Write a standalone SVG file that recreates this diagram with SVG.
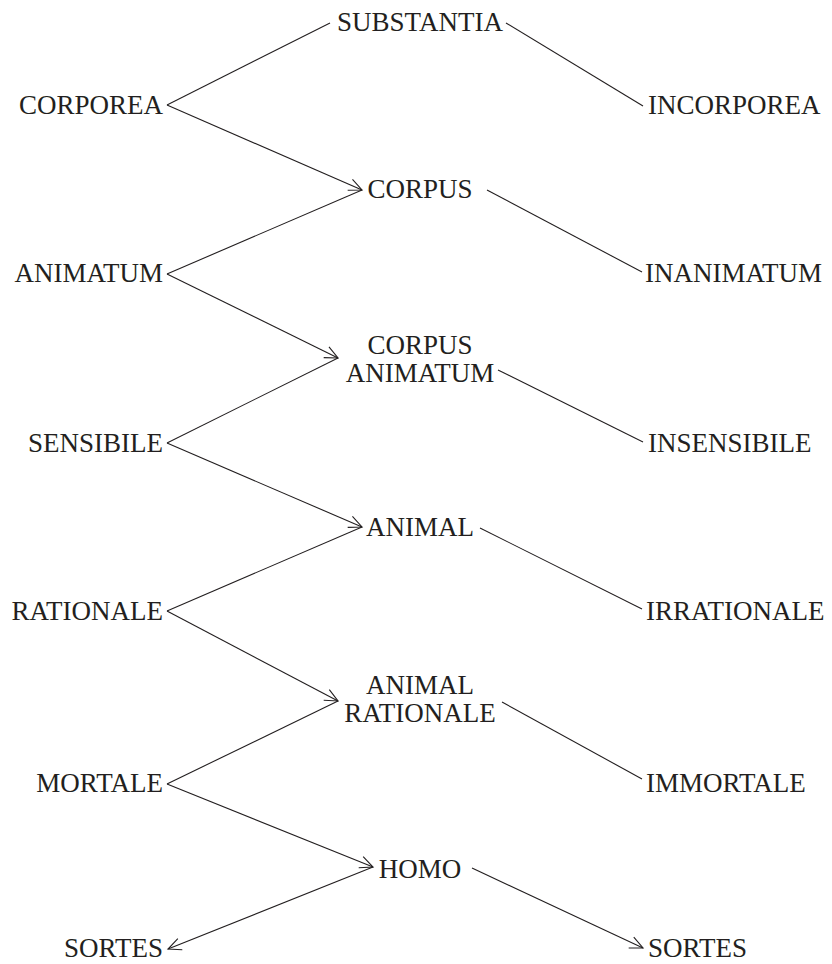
<svg xmlns="http://www.w3.org/2000/svg" width="832" height="964" viewBox="0 0 832 964">
<style>
text{font-family:"Liberation Serif","Times New Roman",serif;font-size:27px;fill:#231f20}
.l{text-anchor:end}.r{text-anchor:start}.c{text-anchor:middle}
line{stroke:#231f20;stroke-width:1.1;fill:none}
</style>
<defs>
<marker id="ah" markerUnits="userSpaceOnUse" markerWidth="20" markerHeight="20" refX="14" refY="10" orient="auto" overflow="visible">
<path d="M1,4 L14,10 L1,16" fill="none" stroke="#231f20" stroke-width="1.1"/>
</marker>
</defs>
<rect width="832" height="964" fill="#fff"/>
<g id="connectors">
<line x1="167" y1="105" x2="330" y2="23"/>
<line x1="167" y1="105" x2="362" y2="190" marker-end="url(#ah)"/>
<line x1="506" y1="23" x2="643" y2="106"/>
<line x1="167" y1="274" x2="362" y2="190"/>
<line x1="487" y1="190" x2="642" y2="272"/>
<line x1="167" y1="274" x2="338" y2="358" marker-end="url(#ah)"/>
<line x1="167" y1="443" x2="338" y2="358"/>
<line x1="498" y1="370" x2="643" y2="442"/>
<line x1="167" y1="443" x2="362" y2="527" marker-end="url(#ah)"/>
<line x1="167" y1="611" x2="362" y2="527"/>
<line x1="480" y1="528" x2="642" y2="609"/>
<line x1="167" y1="611" x2="338" y2="701" marker-end="url(#ah)"/>
<line x1="167" y1="784" x2="338" y2="701"/>
<line x1="502" y1="702" x2="642" y2="779"/>
<line x1="167" y1="784" x2="373" y2="867" marker-end="url(#ah)"/>
<line x1="373" y1="867" x2="168" y2="949" marker-end="url(#ah)"/>
<line x1="472" y1="868" x2="643" y2="948" marker-end="url(#ah)"/>
</g>
<g id="substantia"><text class="c" x="420" y="31">SUBSTANTIA</text></g>
<g id="corporea"><text class="l" x="163" y="114">CORPOREA</text></g>
<g id="incorporea"><text class="r" x="648" y="114">INCORPOREA</text></g>
<g id="corpus"><text class="c" x="420" y="198">CORPUS</text></g>
<g id="animatum"><text class="l" x="163" y="282">ANIMATUM</text></g>
<g id="inanimatum"><text class="r" x="645" y="282">INANIMATUM</text></g>
<g id="corpus-animatum"><text class="c" x="420" y="354">CORPUS</text><text class="c" x="420" y="382">ANIMATUM</text></g>
<g id="sensibile"><text class="l" x="163" y="452">SENSIBILE</text></g>
<g id="insensibile"><text class="r" x="648" y="452">INSENSIBILE</text></g>
<g id="animal"><text class="c" x="420" y="536">ANIMAL</text></g>
<g id="rationale"><text class="l" x="163" y="620">RATIONALE</text></g>
<g id="irrationale"><text class="r" x="646" y="620">IRRATIONALE</text></g>
<g id="animal-rationale"><text class="c" x="420" y="694">ANIMAL</text><text class="c" x="420" y="722">RATIONALE</text></g>
<g id="mortale"><text class="l" x="163" y="792">MORTALE</text></g>
<g id="immortale"><text class="r" x="646" y="792">IMMORTALE</text></g>
<g id="homo"><text class="c" x="420" y="878">HOMO</text></g>
<g id="sortes-left"><text class="l" x="163" y="957">SORTES</text></g>
<g id="sortes-right"><text class="r" x="648" y="957">SORTES</text></g>
</svg>
